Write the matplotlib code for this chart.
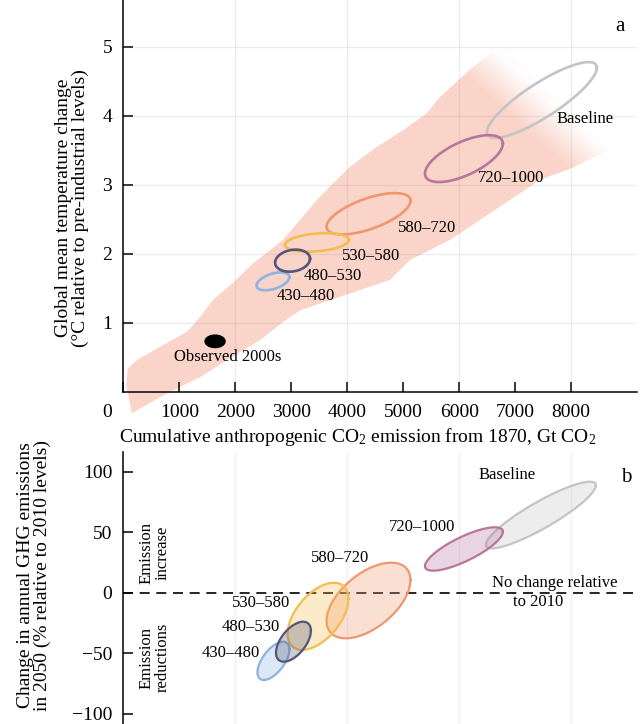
import numpy as np
import matplotlib
matplotlib.use("Agg")
import matplotlib.pyplot as plt
from matplotlib.transforms import ScaledTranslation

plt.rcParams["font.family"] = ["Liberation Serif", "DejaVu Serif"]
plt.rcParams["mathtext.fontset"] = "custom"
plt.rcParams["mathtext.rm"] = "Liberation Serif"
plt.rcParams["mathtext.it"] = "Liberation Serif:italic"

# scenario categories (CO2eq concentration in 2100, ppm)
categories = ["430–480", "480–530", "530–580", "580–720", "720–1000", "Baseline"]

# panel a: cumulative CO2 (Gt CO2) vs warming (deg C) ranges
cum_a_lo = [2380, 2711, 2888, 3630, 5388, 6495]
cum_a_hi = [2966, 3335, 4030, 5130, 6780, 8459]
temp_lo = [1.47, 1.74, 2.03, 2.28, 3.04, 3.68]
temp_hi = [1.73, 2.06, 2.30, 2.88, 3.72, 4.78]
temp_rho = [0.47, 0.18, 0.27, 0.63, 0.64, 0.85]

obs_cum = [1460, 1817]
obs_temp = [0.64, 0.82]

# model spread band (upper edge, fuzzy end, lower edge)
band_up_x = [155, 48, 84, 245, 655, 1138, 1370, 1602, 1959, 2316, 2852, 3155, 3459,
             3745, 4048, 4530, 4995, 5423, 5655, 6245, 6673]
band_up_y = [-0.31, 0.10, 0.34, 0.46, 0.65, 0.87, 1.08, 1.33, 1.58, 1.86, 2.20, 2.49,
             2.78, 3.02, 3.26, 3.55, 3.79, 4.04, 4.27, 4.71, 4.95]
band_end_x = [7030, 7441, 8030, 8637]
band_end_y = [4.76, 4.41, 3.98, 3.50]
band_lo_x = [8030, 7441, 5834, 5120, 4762, 3155, 2852, 2441, 2137, 1780, 1370, 1013, 655]
band_lo_y = [3.25, 3.07, 2.20, 1.91, 1.62, 1.18, 1.01, 0.75, 0.60, 0.42, 0.21, 0.07, -0.08]

# panel b: cumulative CO2 vs change in 2050 GHG emissions (% rel. to 2010)
cum_b_lo = [2396, 2727, 2934, 3630, 5388, 6477]
cum_b_hi = [2968, 3351, 4020, 5130, 6780, 8441]
ghg_lo = [-72.0, -56.9, -47.2, -37.6, 18.2, 36.6]
ghg_hi = [-40.4, -23.9, 8.2, 24.8, 54.0, 91.6]
ghg_rho = [0.60, 0.55, 0.52, 0.54, 0.79, 0.89]

colors = ["#8db3e2", "#55557a", "#f3bd4f", "#ef9770", "#b8769c", "#c4c4c4"]
band_color = "#fad4c8"
draw_order = [5, 4, 3, 2, 0, 1]


def ellipse(xlo, xhi, ylo, yhi, rho, n=240):
    t = np.linspace(0, 2 * np.pi, n)
    cx, cy = (xlo + xhi) / 2, (ylo + yhi) / 2
    hx, hy = (xhi - xlo) / 2, (yhi - ylo) / 2
    x = cx + hx * np.cos(t)
    y = cy + hy * (rho * np.cos(t) + np.sqrt(1 - rho ** 2) * np.sin(t))
    return x, y


fig = plt.figure(figsize=(6.44, 7.24), dpi=100)
ax1 = fig.add_axes([0.1915, 0.459, 0.7971, 0.541])
ax2 = fig.add_axes([0.1915, 0.0, 0.7971, 0.376])

# ---- panel a ----
bx = band_up_x + band_end_x + band_lo_x
by = band_up_y + band_end_y + band_lo_y
band = ax1.fill(bx, by, color=band_color, lw=0, zorder=1, clip_on=False)[0]

# white wash so the band fades out towards its upper-right end
gx = np.linspace(4000, 9400, 500)
gy = np.linspace(2.0, 5.7, 350)
GX, GY = np.meshgrid(gx, gy)
nx, ny = 100 / 148.7, 110 / 148.7
dist = (GX * 0.056 - 373.7) * nx + (GY * 69 - 341.7) * ny
wash = np.ones(GX.shape + (4,))
wash[..., 3] = 1 - np.clip(-dist / 40, 0, 1)
im = ax1.imshow(wash, extent=[gx[0], gx[-1], gy[0], gy[-1]], origin="lower",
                aspect="auto", zorder=1.2, interpolation="bilinear")
im.set_clip_path(band)

ax1.set_xlim(0, 9170)
ax1.set_ylim(0, 5.68)

for i in draw_order:
    x, y = ellipse(cum_a_lo[i], cum_a_hi[i], temp_lo[i], temp_hi[i], temp_rho[i])
    ax1.plot(x, y, color=colors[i], lw=1.9, zorder=3)
x, y = ellipse(obs_cum[0], obs_cum[1], obs_temp[0], obs_temp[1], 0.0)
ax1.fill(x, y, color="black", zorder=3)

lab_a = [(3263, 1.39), (3745, 1.68), (4423, 1.97), (5423, 2.37), (6923, 3.10), (8245, 3.95)]
for name, (tx, ty) in zip(categories, lab_a):
    ax1.text(tx, ty, name, fontsize=12, ha="center", va="center", zorder=4)
ax1.text(1870, 0.50, "Observed 2000s", fontsize=12, ha="center", va="center", zorder=4)
ax1.text(8870, 5.30, "a", fontsize=15, ha="center", va="center")

ax1.set_xticks(range(0, 9000, 1000))
ax1.set_yticks([1, 2, 3, 4, 5])
ax1.tick_params(direction="in", length=7, width=1.1, labelsize=14)
ax1.tick_params(axis="x", pad=9)
ax1.tick_params(axis="y", pad=8)
zero_lbl = ax1.get_xticklabels()[0]
zero_lbl.set_transform(zero_lbl.get_transform()
                       + ScaledTranslation(-0.166, 0, fig.dpi_scale_trans))
for s in ["top", "right"]:
    ax1.spines[s].set_visible(False)
for s in ["left", "bottom"]:
    ax1.spines[s].set_linewidth(1.1)
    ax1.spines[s].set_zorder(5)
for gxv in [2000, 4000, 6000, 8000]:
    ax1.axvline(gxv, color=(0.45, 0.45, 0.45, 0.12), lw=1, zorder=2)
for gyv in [1, 2, 3, 4, 5]:
    ax1.axhline(gyv, color=(0.45, 0.45, 0.45, 0.12), lw=1, zorder=2)

ax1.set_xlabel("Cumulative anthropogenic CO$_2$ emission from 1870, Gt CO$_2$",
               fontsize=14, va="center")
ax1.xaxis.set_label_coords(0.456, -0.116)
ax1.set_ylabel("Global mean temperature change\n(°C relative to pre-industrial levels)",
               fontsize=14, va="center", linespacing=1.0)
ax1.yaxis.set_label_coords(-0.100, 0.469)

# ---- panel b ----
ax2.set_xlim(0, 9170)
ax2.set_ylim(-108.3, 116.3)
for i in draw_order:
    x, y = ellipse(cum_b_lo[i], cum_b_hi[i], ghg_lo[i], ghg_hi[i], ghg_rho[i])
    ax2.fill(x, y, color=colors[i], alpha=0.3, lw=0, zorder=3)
    ax2.plot(x, y, color=colors[i], lw=1.6, zorder=3)

ax2.axhline(0, color="black", lw=1.2, ls=(0, (6, 4)), zorder=2)

lab_b = [(1923, -49.5), (2271, -28.5), (2459, -8.7), (3879, 28.4), (5334, 54.0), (6852, 97.1)]
for name, (tx, ty) in zip(categories, lab_b):
    ax2.text(tx, ty, name, fontsize=12, ha="center", va="center", zorder=4)
ax2.text(7698, 7.8, "No change relative", fontsize=12, ha="center", va="center")
ax2.text(7405, -7.9, "to 2010", fontsize=12, ha="center", va="center")
ax2.text(566, 32.8, "Emission\nincrease", fontsize=12, rotation=90,
         ha="center", va="center", linespacing=1.0)
ax2.text(566, -53.5, "Emission\nreductions", fontsize=12, rotation=90,
         ha="center", va="center", linespacing=1.0)
ax2.text(8977, 95.2, "b", fontsize=15, ha="center", va="center")

ax2.set_yticks([-100, -50, 0, 50, 100])
ax2.set_yticklabels(["−100", "−50", "0", "50", "100"])
ax2.set_xticks([])
ax2.tick_params(direction="in", length=7, width=1.1, labelsize=14, pad=8)
for s in ["top", "right", "bottom"]:
    ax2.spines[s].set_visible(False)
ax2.spines["left"].set_linewidth(1.1)
for gxv in [2000, 4000, 6000, 8000]:
    ax2.axvline(gxv, color=(0.45, 0.45, 0.45, 0.1), lw=1, zorder=1)

ax2.set_ylabel("Change in annual GHG emissions\nin 2050 (% relative to 2010 levels)",
               fontsize=14, va="center", linespacing=1.0)
ax2.yaxis.set_label_coords(-0.174, 0.547)

fig.savefig("out.png", dpi=100)
